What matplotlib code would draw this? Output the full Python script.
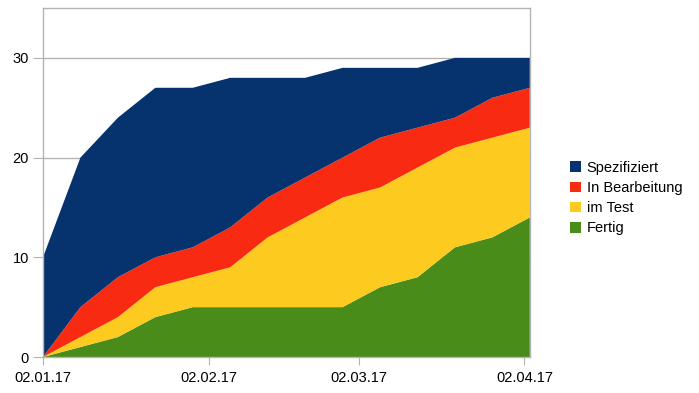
import datetime as dt

import matplotlib
matplotlib.use("Agg")
import matplotlib.pyplot as plt
import matplotlib.dates as mdates
from matplotlib.patches import Patch

plt.rcParams['font.family'] = ['Liberation Sans', 'DejaVu Sans']

# Weekly snapshots (Mondays), number of items per status
dates = [dt.date(2017, 1, 2) + dt.timedelta(days=7 * k) for k in range(14)]
fertig = [0, 1, 2, 4, 5, 5, 5, 5, 5, 7, 8, 11, 12, 14]
im_test = [0, 1, 2, 3, 3, 4, 7, 9, 11, 10, 11, 10, 10, 9]
in_bearbeitung = [0, 3, 4, 3, 3, 4, 4, 4, 4, 5, 4, 3, 4, 4]
spezifiziert = [10, 15, 16, 17, 16, 15, 12, 10, 9, 7, 6, 6, 4, 3]

labels = ['Fertig', 'im Test', 'In Bearbeitung', 'Spezifiziert']
colors = ['#4a8c1a', '#fdca1f', '#f92a12', '#06326e']
tick_dates = [dt.date(2017, 1, 2), dt.date(2017, 2, 2),
              dt.date(2017, 3, 2), dt.date(2017, 4, 2)]
yticks = [0, 10, 20, 30]

fig = plt.figure(figsize=(6.99, 3.93), dpi=100)
ax = fig.add_axes([0.0615, 0.0916, 0.6965, 0.888])

ax.stackplot(dates, fertig, im_test, in_bearbeitung, spezifiziert,
             colors=colors, linewidth=0, zorder=2)

grid_c = '#b3b3b3'
ax.set_ylim(0, 35)
ax.set_yticks(yticks)
ax.yaxis.grid(True, color=grid_c, linewidth=1, zorder=0)
ax.set_axisbelow(True)
ax.set_xlim(dates[0], dates[-1] + dt.timedelta(days=0.4))
ax.set_xticks(tick_dates)
ax.xaxis.set_major_formatter(mdates.DateFormatter('%d.%m.%y'))

for s in ax.spines.values():
    s.set_color(grid_c)
    s.set_linewidth(1)
ax.tick_params(axis='both', colors=grid_c, labelcolor='black', labelsize=10.5)
ax.tick_params(axis='y', length=7, pad=3)
ax.tick_params(axis='x', length=6, pad=4)

handles = [Patch(facecolor=c, edgecolor='none') for c in colors][::-1]
fig.legend(handles, labels[::-1], loc='center left',
           bbox_to_anchor=(0.807, 0.496), frameon=False, fontsize=10.5,
           handlelength=0.75, handleheight=0.75, handletextpad=0.4,
           labelspacing=0.42, borderaxespad=0)

fig.savefig('out.png', dpi=100)
